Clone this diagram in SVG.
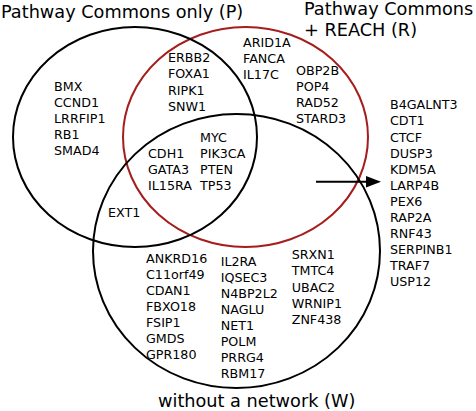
<svg xmlns="http://www.w3.org/2000/svg" width="476" height="411" viewBox="0 0 476 411">
<defs>
<style>
text{font-family:"DejaVu Sans","Liberation Sans",sans-serif;fill:#000}
.t{font-size:17.7px}
.g{font-size:12.7px}
.c{fill:none;stroke:#000;stroke-width:2}
.r{fill:none;stroke:#a51d1d;stroke-width:2}
.conn{stroke:#000;stroke-width:2;fill:none}
</style>
</defs>
<rect width="476" height="411" fill="#fff"/>
<g id="setR"><ellipse class="r" cx="245.5" cy="137" rx="122.5" ry="110"/></g>
<g id="setP"><ellipse class="c" cx="135" cy="137" rx="122" ry="110"/></g>
<g id="setW"><ellipse class="c" cx="236.5" cy="251" rx="143.5" ry="137"/></g>
<g id="labels">
<text class="t" x="1" y="18">Pathway Commons only (P)</text>
<text class="t" x="304" y="15">Pathway Commons</text>
<text class="t" x="304" y="36">+ REACH (R)</text>
<text class="t" x="158" y="406.5">without a network (W)</text>
</g>
<g id="P-only"><text class="g" x="54" y="90.7">BMX</text><text class="g" x="54" y="106.8">CCND1</text><text class="g" x="54" y="122.9">LRRFIP1</text><text class="g" x="54" y="139">RB1</text><text class="g" x="54" y="155.1">SMAD4</text></g>
<g id="PR"><text class="g" x="168" y="62.3">ERBB2</text><text class="g" x="168" y="78.4">FOXA1</text><text class="g" x="168" y="94.5">RIPK1</text><text class="g" x="168" y="110.6">SNW1</text></g>
<g id="R-only-1"><text class="g" x="243" y="46.7">ARID1A</text><text class="g" x="243" y="62.8">FANCA</text><text class="g" x="243" y="78.9">IL17C</text></g>
<g id="R-only-2"><text class="g" x="296" y="75">OBP2B</text><text class="g" x="296" y="91.1">POP4</text><text class="g" x="296" y="107.2">RAD52</text><text class="g" x="296" y="123.3">STARD3</text></g>
<g id="PRW-1"><text class="g" x="148" y="157.6">CDH1</text><text class="g" x="148" y="173.7">GATA3</text><text class="g" x="148" y="189.8">IL15RA</text></g>
<g id="PRW-2"><text class="g" x="200" y="141.5">MYC</text><text class="g" x="200" y="157.6">PIK3CA</text><text class="g" x="200" y="173.7">PTEN</text><text class="g" x="200" y="189.8">TP53</text></g>
<g id="PW"><text class="g" x="108" y="217.3">EXT1</text></g>
<g id="W-only-1"><text class="g" x="146" y="262.5">ANKRD16</text><text class="g" x="146" y="278.6">C11orf49</text><text class="g" x="146" y="294.7">CDAN1</text><text class="g" x="146" y="310.8">FBXO18</text><text class="g" x="146" y="326.9">FSIP1</text><text class="g" x="146" y="343">GMDS</text><text class="g" x="146" y="359.1">GPR180</text></g>
<g id="W-only-2"><text class="g" x="220.7" y="265.5">IL2RA</text><text class="g" x="220.7" y="281.6">IQSEC3</text><text class="g" x="220.7" y="297.7">N4BP2L2</text><text class="g" x="220.7" y="313.8">NAGLU</text><text class="g" x="220.7" y="329.9">NET1</text><text class="g" x="220.7" y="346">POLM</text><text class="g" x="220.7" y="362.1">PRRG4</text><text class="g" x="220.7" y="378.2">RBM17</text></g>
<g id="W-only-3"><text class="g" x="291.7" y="259.3">SRXN1</text><text class="g" x="291.7" y="275.4">TMTC4</text><text class="g" x="291.7" y="291.5">UBAC2</text><text class="g" x="291.7" y="307.6">WRNIP1</text><text class="g" x="291.7" y="323.7">ZNF438</text></g>
<g id="none"><text class="g" x="390" y="109.3">B4GALNT3</text><text class="g" x="390" y="125.4">CDT1</text><text class="g" x="390" y="141.5">CTCF</text><text class="g" x="390" y="157.6">DUSP3</text><text class="g" x="390" y="173.7">KDM5A</text><text class="g" x="390" y="189.8">LARP4B</text><text class="g" x="390" y="205.9">PEX6</text><text class="g" x="390" y="222">RAP2A</text><text class="g" x="390" y="238.1">RNF43</text><text class="g" x="390" y="254.2">SERPINB1</text><text class="g" x="390" y="270.3">TRAF7</text><text class="g" x="390" y="286.4">USP12</text></g>
<g id="connectors"><line class="conn" x1="316" y1="181.7" x2="366" y2="181.7"/><polygon points="366,176 381,181.7 366,187.4" fill="#000"/></g>
</svg>
